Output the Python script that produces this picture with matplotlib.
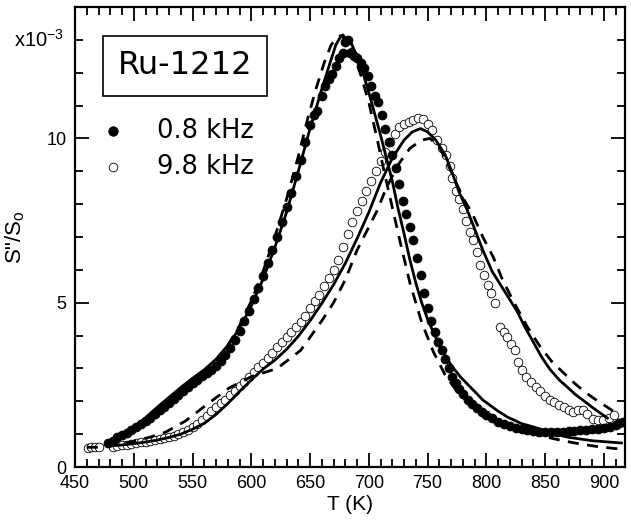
import matplotlib
matplotlib.use("Agg")
import matplotlib.pyplot as plt
from matplotlib.ticker import MultipleLocator

plt.rcParams['font.family'] = ['Liberation Sans', 'DejaVu Sans']
plt.rcParams['mathtext.fontset'] = 'custom'
plt.rcParams['mathtext.rm'] = 'Liberation Sans'
plt.rcParams['mathtext.it'] = 'Liberation Sans'

# ---- data (values in units of 1e-3) ----
T_08 = [478, 482, 486, 490, 494, 498, 502, 506, 510, 514, 518, 522, 526, 530, 534, 538,
        542, 546, 550, 554, 558, 562, 566, 570, 574, 578, 582, 586, 590, 594, 598, 602,
        606, 610, 614, 618, 622, 626, 630, 634, 638, 642, 646, 650, 653, 656, 660, 663,
        666, 669, 672, 675, 678, 680, 682, 684, 687, 690, 693, 696, 699, 702, 705, 708,
        711, 714, 717, 720, 723, 726, 729, 732, 735, 738, 741, 744, 747, 750, 753, 756,
        759, 762, 765, 768, 771, 774, 777, 780, 784, 788, 792, 796, 800, 805, 810, 815,
        820, 825, 830, 835, 840, 845, 850, 855, 860, 865, 870, 875, 880, 885, 890, 895,
        900, 905, 910, 913, 916]
S_08 = [0.72, 0.80, 0.90, 0.98, 1.05, 1.12, 1.22, 1.30, 1.40, 1.50, 1.60, 1.72, 1.84, 1.95, 2.07, 2.20,
        2.32, 2.45, 2.56, 2.66, 2.76, 2.86, 2.95, 3.08, 3.22, 3.40, 3.62, 3.88, 4.15, 4.45, 4.75, 5.10,
        5.45, 5.80, 6.20, 6.60, 7.00, 7.45, 7.90, 8.35, 8.85, 9.35, 9.90, 10.40, 10.70, 10.85, 11.30, 11.60,
        11.80, 11.95, 12.20, 12.45, 12.60, 12.95, 13.00, 12.60, 12.50, 12.45, 12.30, 12.15, 11.90, 11.60, 11.30, 11.10,
        10.70, 10.30, 9.90, 9.50, 9.10, 8.60, 8.10, 7.70, 7.30, 6.90, 6.35, 5.85, 5.30, 4.85, 4.45, 4.10,
        3.80, 3.55, 3.30, 3.00, 2.75, 2.55, 2.38, 2.22, 2.05, 1.92, 1.80, 1.68, 1.58, 1.48, 1.38, 1.30,
        1.24, 1.19, 1.15, 1.12, 1.10, 1.08, 1.07, 1.06, 1.07, 1.08, 1.09, 1.10, 1.12, 1.13, 1.15, 1.17,
        1.19, 1.22, 1.28, 1.35, 1.38]

T_98 = [461, 464, 467, 470, 482, 486, 490, 494, 498, 502, 506, 510, 514, 518, 522, 526,
        530, 534, 538, 542, 546, 550, 554, 558, 562, 566, 570, 574, 578, 582, 586, 590,
        594, 598, 602, 606, 610, 614, 618, 622, 626, 630, 634, 638, 642, 646, 650, 654,
        658, 662, 666, 670, 674, 678, 682, 686, 690, 694, 698, 702, 706, 710, 714, 718,
        722, 726, 730, 734, 738, 742, 746, 750, 754, 758, 762, 766, 769, 771, 774, 777,
        780, 783, 786, 789, 792, 795, 798, 801, 804, 807, 812, 815, 818, 821, 824, 827,
        830, 834, 838, 842, 846, 850, 854, 858, 862, 866, 870, 874, 878, 882, 886, 891,
        895, 899, 904, 909]
S_98 = [0.58, 0.60, 0.60, 0.61, 0.62, 0.64, 0.66, 0.68, 0.70, 0.73, 0.75, 0.77, 0.79, 0.81, 0.84, 0.87,
        0.91, 0.95, 1.00, 1.06, 1.13, 1.22, 1.32, 1.44, 1.56, 1.70, 1.83, 1.95, 2.05, 2.18, 2.32, 2.46,
        2.60, 2.74, 2.90, 3.04, 3.18, 3.32, 3.47, 3.65, 3.80, 3.95, 4.10, 4.25, 4.40, 4.60, 4.85, 5.05,
        5.25, 5.50, 5.75, 6.00, 6.30, 6.70, 7.10, 7.45, 7.80, 8.10, 8.40, 8.70, 9.00, 9.30, 9.60, 9.90,
        10.15, 10.35, 10.45, 10.50, 10.55, 10.62, 10.60, 10.45, 10.25, 9.95, 9.70, 9.50, 9.15, 8.80, 8.40, 8.15,
        7.85, 7.50, 7.15, 6.90, 6.55, 6.15, 5.85, 5.55, 5.30, 5.00, 4.26, 4.10, 3.95, 3.75, 3.55, 3.20,
        2.95, 2.75, 2.58, 2.45, 2.30, 2.15, 2.05, 1.97, 1.88, 1.82, 1.75, 1.68, 1.72, 1.73, 1.60, 1.45,
        1.42, 1.43, 1.50, 1.58]

# fit curves (solid and dashed)
T_fit08_solid = [478, 490, 500, 510, 520, 530, 540, 550, 560, 570, 580, 590, 600, 610, 620, 630,
                 640, 650, 660, 667, 672, 676, 680, 685, 690, 695, 700, 705, 710, 715, 720, 725,
                 730, 735, 740, 745, 750, 760, 770, 778, 790, 797, 810, 818, 830, 840, 855, 869,
                 890, 915]
S_fit08_solid = [0.72, 1.02, 1.22, 1.50, 1.82, 2.12, 2.42, 2.70, 2.96, 3.28, 3.70, 4.22, 4.90, 5.72, 6.68, 7.75,
                 9.00, 10.30, 11.50, 12.30, 12.85, 13.10, 13.05, 12.90, 12.50, 12.00, 11.40, 10.75, 10.10, 9.40, 8.70, 7.85,
                 7.10, 6.30, 5.60, 5.00, 4.50, 3.70, 3.10, 2.74, 2.30, 2.04, 1.70, 1.52, 1.32, 1.22, 1.05, 0.91,
                 0.80, 0.73]

T_fit08_dash = [478, 490, 500, 510, 520, 530, 540, 550, 560, 570, 580, 590, 600, 610, 620, 630,
                640, 648, 655, 662, 668, 674, 678, 683, 688, 693, 700, 707, 713, 720, 727, 735,
                745, 755, 765, 775, 785, 795, 805, 820, 835, 850, 865, 880, 895, 910, 915]
S_fit08_dash = [0.72, 1.00, 1.20, 1.45, 1.75, 2.05, 2.35, 2.62, 2.90, 3.25, 3.70, 4.30, 5.05, 5.95, 7.00, 8.15,
                9.45, 10.60, 11.50, 12.30, 12.85, 13.10, 13.15, 12.90, 12.45, 11.95, 11.10, 10.00, 9.00, 7.90, 6.80, 5.60,
                4.40, 3.50, 2.80, 2.30, 1.95, 1.65, 1.45, 1.22, 1.05, 0.92, 0.80, 0.70, 0.62, 0.56, 0.55]

T_fit98_solid = [479, 490, 500, 510, 520, 530, 540, 550, 560, 570, 580, 590, 600, 610, 620, 630,
                 640, 650, 660, 670, 680, 690, 700, 710, 720, 730, 737, 744, 750, 757, 765, 770,
                 777, 784, 790, 797, 805, 812, 819, 826, 833, 840, 847, 854, 862, 869, 876, 882,
                 890, 897, 903]
S_fit98_solid = [0.64, 0.67, 0.71, 0.76, 0.82, 0.90, 1.00, 1.15, 1.33, 1.60, 1.93, 2.30, 2.65, 2.98, 3.25, 3.58,
                 3.98, 4.45, 4.98, 5.55, 6.20, 6.95, 7.75, 8.65, 9.40, 9.95, 10.20, 10.30, 10.20, 9.95, 9.50, 9.05,
                 8.35, 7.80, 7.25, 6.60, 5.95, 5.55, 5.15, 4.75, 4.25, 3.80, 3.35, 2.98, 2.65, 2.43, 2.20, 2.04,
                 1.82, 1.64, 1.49]

T_fit98_dash = [460, 470, 480, 500, 515, 527, 544, 564, 581, 600, 622, 642, 650, 660, 670, 680,
                690, 700, 707, 715, 725, 735, 745, 752, 760, 770, 780, 788, 797, 806, 814, 824,
                835, 846, 856, 865, 875, 884, 895, 903, 912]
S_fit98_dash = [0.60, 0.60, 0.65, 0.78, 0.92, 1.06, 1.40, 1.95, 2.40, 2.75, 3.00, 3.55, 3.95, 4.45, 5.00, 5.70,
                6.60, 7.30, 7.80, 8.50, 9.20, 9.70, 9.95, 10.00, 9.75, 9.00, 8.20, 7.72, 7.00, 6.38, 5.68, 4.98,
                4.26, 3.65, 3.20, 2.89, 2.55, 2.28, 2.00, 1.82, 1.60]

x_ticks = [450, 500, 550, 600, 650, 700, 750, 800, 850, 900]
y_ticks = [0, 5, 10]

W, H = 631, 527
fig = plt.figure(figsize=(W / 100, H / 100), dpi=100)
ax = fig.add_axes([75 / W, (H - 467) / H, 550 / W, 460 / H])

# fit lines
ax.plot(T_fit08_solid, S_fit08_solid, '-', color='black', lw=2.0, zorder=3)
ax.plot(T_fit08_dash, S_fit08_dash, '--', color='black', lw=2.0, dashes=(4, 3), zorder=3)
ax.plot(T_fit98_solid, S_fit98_solid, '-', color='black', lw=2.0, zorder=3)
ax.plot(T_fit98_dash, S_fit98_dash, '--', color='black', lw=2.0, dashes=(4, 3), zorder=3)

# data
ax.plot(T_08, S_08, 'o', ms=6.4, mfc='black', mec='black', mew=0.6, ls='none', zorder=4)
ax.plot(T_98, S_98, 'o', ms=6.2, mfc='white', mec='black', mew=0.6, ls='none', zorder=2)

ax.set_xlim(450, 918)
ax.set_ylim(0, 14)
ax.set_xticks(x_ticks)
ax.set_yticks(y_ticks)
ax.xaxis.set_minor_locator(MultipleLocator(10))
ax.yaxis.set_minor_locator(MultipleLocator(1))
ax.tick_params(which='both', direction='in', top=True, right=True, width=1.3)
ax.tick_params(which='major', length=10, labelsize=13, pad=6)
ax.tick_params(which='minor', length=5.5)
ax.tick_params(axis='y', which='both', labelright=False)
ax.tick_params(axis='x', which='both', labeltop=False)
for s in ax.spines.values():
    s.set_linewidth(1.6)

ax.set_xlabel('T (K)', fontsize=15, labelpad=2)
ax.set_ylabel('S"/S$_\\mathrm{o}$', fontsize=16, labelpad=14)

# x10^-3 label
fig.text(14 / W, 1 - 40 / H, 'x10$^{-3}$', fontsize=14.5, ha='left', va='center')

# sample label box
ax.text((185 - 75) / 550, (467 - 66) / 460, 'Ru-1212', transform=ax.transAxes,
        fontsize=23, family=['DejaVu Sans'], ha='center', va='center', zorder=6,
        bbox=dict(boxstyle='square,pad=0.45', fc='white', ec='black', lw=1.2))

# legend
lx = (113 - 75) / 550
tx = (157 - 75) / 550
for yy, fc, ms, label in [(131, 'black', 6.8, '0.8 kHz'), (167, 'white', 6.2, '9.8 kHz')]:
    fy = (467 - yy) / 460
    ax.plot([lx], [fy], 'o', transform=ax.transAxes, ms=ms, mfc=fc, mec='black', mew=0.6,
            clip_on=False, zorder=6)
    ax.text(tx, fy, label, transform=ax.transAxes, fontsize=18.5, family=['DejaVu Sans'],
            ha='left', va='center', zorder=6)

fig.savefig('out.png', dpi=100)
